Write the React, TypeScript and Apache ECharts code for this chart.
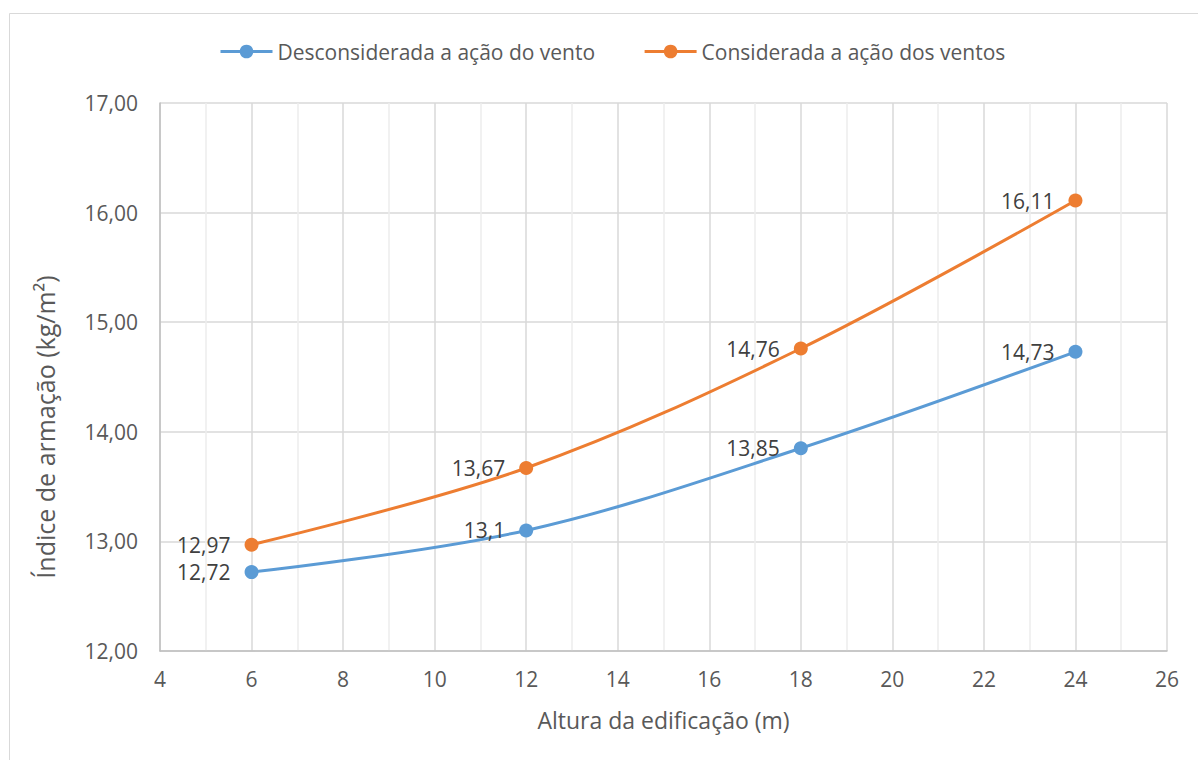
import React, { useEffect, useRef } from "react";
import * as echarts from "echarts";

// Building height (m)
const heights = [6, 12, 18, 24];
// Reinforcement index (kg/m²)
const semVento = [12.72, 13.1, 13.85, 14.73];
const comVento = [12.97, 13.67, 14.76, 16.11];

const seriesNames = ["Desconsiderada a ação do vento", "Considerada a ação dos ventos"];
const colors = ["#5B9BD5", "#ED7D31"];
const xTitle = "Altura da edificação (m)";
const yTitle = "Índice de armação (kg/m²)";

const FONT = "Open Sans";
const TEXT = "#595959";
const FS = 21;

const fmt = (v: number) => String(v).replace(".", ",");

export default function App() {
  const ref = useRef<HTMLDivElement>(null);

  useEffect(() => {
    const chart = echarts.init(ref.current!, null, { renderer: "svg" });
    const mk = (name: string, vals: number[], color: string) => ({
      name,
      type: "line",
      smooth: 0.35,
      data: heights.map((h, i) => [h, vals[i]]),
      symbol: "circle",
      symbolSize: 14,
      lineStyle: { color, width: 3 },
      itemStyle: { color },
      label: {
        show: true,
        position: "left",
        distance: 14,
        color: "#404040",
        fontFamily: FONT,
        fontSize: FS,
        formatter: (p: any) => fmt(p.value[1]),
      },
    });

    chart.setOption({
      animation: false,
      textStyle: { fontFamily: FONT },
      graphic: [
        {
          type: "rect",
          shape: { x: 9.5, y: 13.5, width: 1200, height: 760 },
          style: { fill: "none", stroke: "#D9D9D9", lineWidth: 1 },
          silent: true,
        },
        {
          type: "text",
          x: 45,
          y: 427,
          rotation: Math.PI / 2,
          style: {
            text: yTitle,
            fill: TEXT,
            font: `25px "${FONT}"`,
            align: "center",
            verticalAlign: "middle",
          },
          silent: true,
        },
      ],
      legend: {
        top: 36,
        left: 214,
        itemWidth: 52,
        itemHeight: 17,
        itemGap: 48,
        lineStyle: { width: 3 },
        textStyle: { color: TEXT, fontFamily: FONT, fontSize: FS },
        data: seriesNames,
      },
      grid: { left: 160, right: 31, top: 103, bottom: 109, containLabel: false },
      xAxis: {
        type: "value",
        min: 4,
        max: 26,
        interval: 2,
        name: xTitle,
        nameLocation: "middle",
        nameGap: 57,
        nameTextStyle: { color: TEXT, fontFamily: FONT, fontSize: 23 },
        axisLine: { show: true, lineStyle: { color: "#BFBFBF", width: 1.5 } },
        axisTick: { show: false },
        axisLabel: { color: TEXT, fontFamily: FONT, fontSize: FS, margin: 17 },
        splitLine: { show: true, lineStyle: { color: "#D9D9D9", width: 1.5 } },
        minorTick: { show: false, splitNumber: 2 },
        minorSplitLine: { show: true, lineStyle: { color: "#EDEDED", width: 1.5 } },
      },
      yAxis: {
        type: "value",
        min: 12,
        max: 17,
        interval: 1,
        axisLine: { show: true, lineStyle: { color: "#BFBFBF", width: 1.5 } },
        axisTick: { show: false },
        axisLabel: {
          color: TEXT,
          fontFamily: FONT,
          fontSize: FS,
          margin: 22,
          formatter: (v: number) => v.toFixed(2).replace(".", ","),
        },
        splitLine: { show: true, lineStyle: { color: "#D9D9D9", width: 1.5 } },
      },
      series: [
        mk(seriesNames[0], semVento, colors[0]),
        mk(seriesNames[1], comVento, colors[1]),
      ],
    });
    return () => chart.dispose();
  }, []);

  return (
    <div
      ref={ref}
      style={{ position: "absolute", left: 0, top: 0, width: 1198, height: 760, background: "#fff" }}
    />
  );
}
